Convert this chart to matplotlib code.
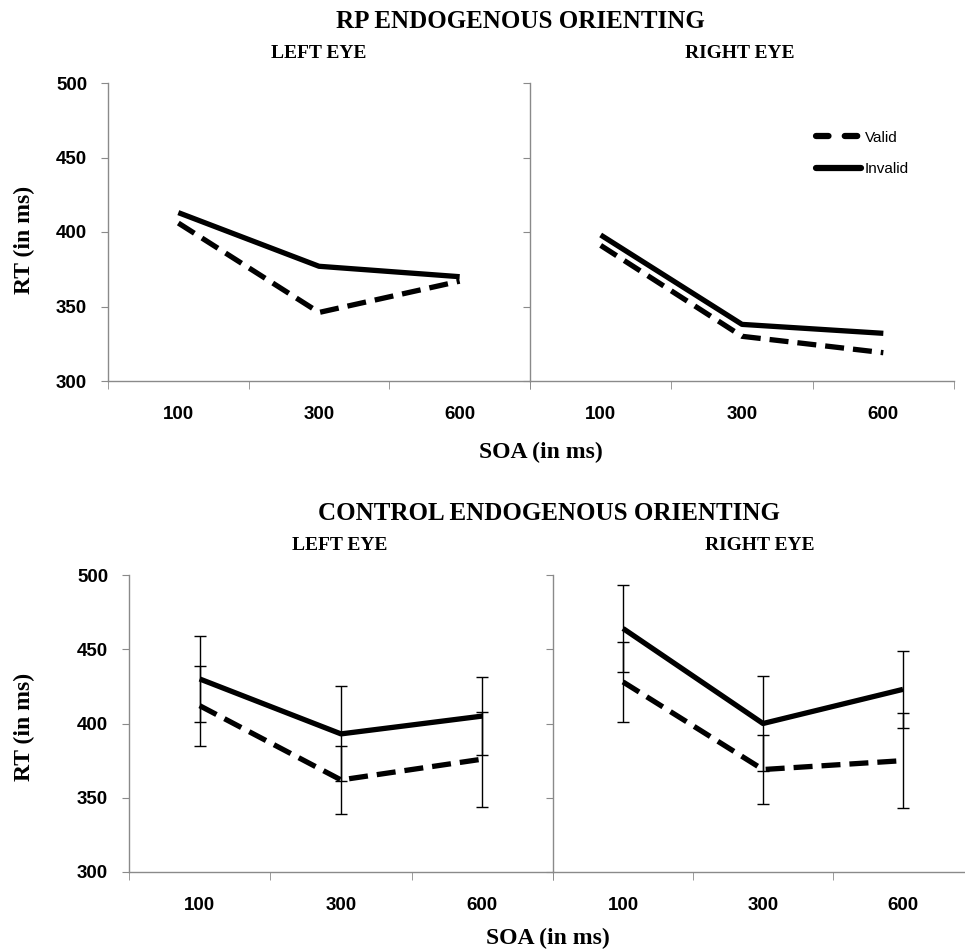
import numpy as np
import matplotlib
matplotlib.use('Agg')
import matplotlib.pyplot as plt
from matplotlib.lines import Line2D

# data
soa_labels = ['100', '300', '600']

rp_left_valid = [406, 346, 367]
rp_left_invalid = [413, 377, 370]
rp_right_valid = [391, 330, 319]
rp_right_invalid = [398, 338, 332]

ctl_left_valid = [412, 362, 376]
ctl_left_invalid = [430, 393, 405]
ctl_right_valid = [428, 369, 375]
ctl_right_invalid = [464, 400, 423]
ctl_valid_err = [27, 23, 32]
ctl_invalid_err = [29, 32, 26]

SERIF = ['Liberation Serif', 'DejaVu Serif']
SANS = ['Liberation Sans', 'DejaVu Sans']
SPINE = '#8a8a8a'

fig = plt.figure(figsize=(9.65, 9.49), dpi=100)


def style_axes(ax, show_ylabels):
    x = np.arange(len(soa_labels))
    ax.set_xlim(-0.5, 2.5)
    ax.set_ylim(300, 500)
    ax.set_yticks([300, 350, 400, 450, 500])
    ax.set_xticks(x)
    ax.set_xticklabels(soa_labels, fontfamily=SANS, fontweight='bold', fontsize=13.5)
    ax.set_xticks([-0.5, 0.5, 1.5, 2.5], minor=True)
    ax.tick_params(axis='x', which='major', length=0, pad=18)
    ax.tick_params(axis='x', which='minor', length=6, color=SPINE, direction='out')
    ax.tick_params(axis='y', length=5, color=SPINE, direction='out', pad=10)
    if show_ylabels:
        ax.set_yticklabels(['300', '350', '400', '450', '500'],
                           fontfamily=SANS, fontweight='bold', fontsize=13.5)
    else:
        ax.set_yticklabels([])
    for s in ['top', 'right']:
        ax.spines[s].set_visible(False)
    for s in ['left', 'bottom']:
        ax.spines[s].set_color(SPINE)
        ax.spines[s].set_linewidth(1)
    ax.patch.set_alpha(0)


def draw_pair(ax, valid, invalid, verr=None, ierr=None):
    x = np.arange(len(soa_labels))
    ax.plot(x, invalid, color='black', lw=3.8, solid_capstyle='butt')
    ax.plot(x, valid, color='black', lw=3.8, dashes=(3.6, 1.7))
    if verr is not None:
        ax.errorbar(x, invalid, yerr=ierr, fmt='none', ecolor='black',
                    elinewidth=1, capsize=4, capthick=1)
        ax.errorbar(x, valid, yerr=verr, fmt='none', ecolor='black',
                    elinewidth=1, capsize=4, capthick=1)


# RP panels
ax1 = fig.add_axes([108 / 965, 1 - 381 / 949, 422 / 965, 298 / 949])
ax2 = fig.add_axes([530 / 965, 1 - 381 / 949, 424 / 965, 298 / 949])
draw_pair(ax1, rp_left_valid, rp_left_invalid)
draw_pair(ax2, rp_right_valid, rp_right_invalid)
style_axes(ax1, True)
style_axes(ax2, False)

legend_handles = [
    Line2D([0], [0], color='black', lw=4.5, dashes=(2.0, 2.6), dash_capstyle='round'),
    Line2D([0], [0], color='black', lw=4.5, solid_capstyle='round'),
]
ax2.legend(legend_handles, ['Valid', 'Invalid'], loc='upper left',
           bbox_to_anchor=(0.675, 0.84), frameon=False, borderpad=0,
           borderaxespad=0, handlelength=2.9, handletextpad=0.3,
           labelspacing=1.15, prop={'family': SANS, 'size': 11})

# control panels
ax3 = fig.add_axes([129 / 965, 1 - 872 / 949, 424 / 965, 297 / 949])
ax4 = fig.add_axes([553 / 965, 1 - 872 / 949, 420 / 965, 297 / 949])
draw_pair(ax3, ctl_left_valid, ctl_left_invalid, ctl_valid_err, ctl_invalid_err)
draw_pair(ax4, ctl_right_valid, ctl_right_invalid, ctl_valid_err, ctl_invalid_err)
style_axes(ax3, True)
style_axes(ax4, False)

# titles and labels
tkw = dict(family=SERIF, fontweight='bold', ha='center', va='center')
fig.text(520 / 965, 1 - 22 / 949, 'RP ENDOGENOUS ORIENTING', fontsize=18, **tkw)
fig.text(319 / 965, 1 - 53 / 949, 'LEFT EYE', fontsize=14, **tkw)
fig.text(740 / 965, 1 - 53 / 949, 'RIGHT EYE', fontsize=14, **tkw)
fig.text(541 / 965, 1 - 452 / 949, 'SOA (in ms)', fontsize=17, **tkw)
fig.text(24 / 965, 1 - 240 / 949, 'RT (in ms)', fontsize=17, rotation=90, **tkw)

fig.text(549 / 965, 1 - 513 / 949, 'CONTROL ENDOGENOUS ORIENTING', fontsize=18, **tkw)
fig.text(340 / 965, 1 - 545 / 949, 'LEFT EYE', fontsize=14, **tkw)
fig.text(760 / 965, 1 - 545 / 949, 'RIGHT EYE', fontsize=14, **tkw)
fig.text(548 / 965, 1 - 938 / 949, 'SOA (in ms)', fontsize=17, **tkw)
fig.text(24 / 965, 1 - 727 / 949, 'RT (in ms)', fontsize=17, rotation=90, **tkw)

fig.savefig('out.png', dpi=100)
